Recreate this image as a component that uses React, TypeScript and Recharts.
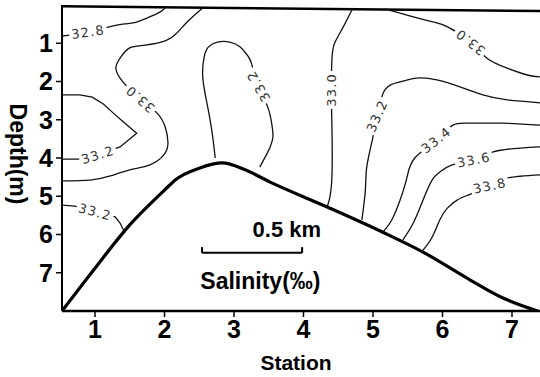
import { ComposedChart, Line, Scatter, XAxis, YAxis, ReferenceLine } from "recharts"

document.body.style.margin = "0"

const stationTicks = [1, 2, 3, 4, 5, 6, 7]
const depthTicks = [1, 2, 3, 4, 5, 6, 7]

// bottom profile, [station, depth]
const seafloor = [
  [0.525, 8.0], [1.0, 6.88], [1.5, 5.75], [2.0, 4.84], [2.15, 4.58], [2.51, 4.26],
  [2.83, 4.13], [3.16, 4.31], [3.52, 4.63], [4.34, 5.28], [5.14, 5.94], [5.72, 6.46],
  [6.4, 7.19], [6.87, 7.66], [7.37, 8.0],
]

// salinity isolines
const iso328 = [[0.525, 0.81], [0.9, 0.71], [1.33, 0.52], [1.55, 0.47], [1.75, 0.34], [1.94, 0.18], [2.02, 0.05]]
const iso330West = [
  [2.55, 0.08], [2.34, 0.42], [2.18, 0.73], [2.01, 0.94], [1.72, 1.05], [1.5, 1.12], [1.37, 1.36],
  [1.3, 1.65], [1.4, 2.01], [1.65, 2.46], [1.89, 2.82], [2.01, 3.19], [2.05, 3.61], [1.99, 3.92],
  [1.79, 4.18], [1.5, 4.31], [1.22, 4.47], [0.93, 4.58], [0.525, 4.6],
]
const iso332Wedge = [
  [0.525, 2.35], [0.78, 2.35], [0.96, 2.41], [1.12, 2.59], [1.26, 2.82], [1.43, 3.09], [1.6, 3.35],
  [1.36, 3.71], [1.04, 3.92], [0.76, 4.03], [0.525, 4.03],
]
const iso332Slope = [[0.525, 5.23], [0.71, 5.26], [1.0, 5.41], [1.29, 5.54], [1.36, 5.7], [1.43, 5.96]]
const iso332Dome = [
  [2.73, 4.0], [2.68, 3.27], [2.61, 2.56], [2.55, 1.88], [2.57, 1.36], [2.63, 1.1], [2.76, 0.97],
  [2.94, 0.97], [3.09, 1.1], [3.19, 1.31], [3.25, 1.52], [3.35, 2.12], [3.49, 2.69], [3.55, 3.19],
  [3.56, 3.45], [3.52, 3.71], [3.45, 3.97], [3.37, 4.24],
]
const iso330Mid = [[4.71, 0.08], [4.57, 0.58], [4.45, 0.99], [4.41, 1.39], [4.4, 2.22], [4.41, 3.27], [4.41, 4.44], [4.38, 5.02], [4.34, 5.28]]
const iso330East = [[5.17, 0.1], [5.58, 0.31], [5.86, 0.44], [6.08, 0.58], [6.4, 0.97], [6.64, 1.39], [6.93, 1.65], [7.22, 1.83], [7.403, 1.88]]
const iso332East = [
  [7.403, 2.56], [6.93, 2.48], [6.58, 2.35], [6.25, 2.14], [5.92, 1.96], [5.63, 1.91], [5.39, 2.01],
  [5.17, 2.22], [5.06, 2.9], [4.99, 3.53], [4.91, 4.24], [4.89, 4.84], [4.84, 5.62],
]
const iso334 = [[7.403, 3.14], [6.87, 3.09], [6.4, 3.09], [6.15, 3.14], [5.91, 3.53], [5.6, 4.0], [5.49, 4.5], [5.39, 5.1], [5.27, 5.62], [5.14, 5.94]]
const iso336 = [[7.403, 3.71], [7.12, 3.74], [6.73, 3.84], [6.45, 4.05], [6.14, 4.18], [5.96, 4.37], [5.85, 4.58], [5.72, 5.1], [5.58, 5.7], [5.43, 6.14]]
const iso338 = [[7.403, 4.44], [6.94, 4.52], [6.68, 4.73], [6.37, 4.97], [6.21, 5.1], [6.07, 5.31], [5.96, 5.62], [5.85, 6.07], [5.72, 6.41]]

const isolines = [
  { id: "iso328", pts: iso328 },
  { id: "iso330West", pts: iso330West },
  { id: "iso332Wedge", pts: iso332Wedge },
  { id: "iso332Slope", pts: iso332Slope },
  { id: "iso332Dome", pts: iso332Dome },
  { id: "iso330Mid", pts: iso330Mid },
  { id: "iso330East", pts: iso330East },
  { id: "iso332East", pts: iso332East },
  { id: "iso334", pts: iso334 },
  { id: "iso336", pts: iso336 },
  { id: "iso338", pts: iso338 },
]

// contour labels: station, depth, text, text direction (deg)
const isoLabels = [
  { x: 0.9, y: 0.71, text: "32.8", angle: -8 },
  { x: 1.65, y: 2.46, text: "33.0", angle: -139 },
  { x: 1.04, y: 3.92, text: "33.2", angle: -17 },
  { x: 1.0, y: 5.41, text: "33.2", angle: 15 },
  { x: 3.35, y: 2.12, text: "33.2", angle: -120 },
  { x: 4.4, y: 2.22, text: "33.0", angle: -90 },
  { x: 6.4, y: 0.97, text: "33.0", angle: -142 },
  { x: 5.06, y: 2.9, text: "33.2", angle: -66 },
  { x: 5.91, y: 3.53, text: "33.4", angle: -38 },
  { x: 6.45, y: 4.05, text: "33.6", angle: -11 },
  { x: 6.68, y: 4.73, text: "33.8", angle: -12 },
]

const notes = [
  { x: 3.76, y: 5.88, text: "0.5 km" },
  { x: 3.38, y: 7.22, text: "Salinity(‰)" },
]

// 0.5 km bar
const scaleBar = { x0: 2.54, x1: 3.98, y: 6.48, tickTop: 6.33 }
const frameTop = [[0.525, 0.03], [7.403, 0.16]]

const sharp = new Set(["iso332Wedge", "iso332Slope"])
const font = "'Liberation Sans', Arial, Helvetica, sans-serif"

const toPts = (arr: number[][]) => arr.map(([x, y]) => ({ x, y }))

const IsoLabel = (props: any) => {
  const { cx, cy, payload } = props
  const w = payload.text.length * 9.5
  return (
    <g transform={`translate(${cx},${cy}) rotate(${payload.angle})`}>
      <rect x={-w / 2} y={-7} width={w} height={14} fill="#fff" />
      <text
        x={0}
        y={0}
        textAnchor="middle"
        dominantBaseline="central"
        fontSize={13}
        fontFamily="'DejaVu Sans', sans-serif"
        letterSpacing={1.2}
        fill="#333"
      >
        {payload.text}
      </text>
    </g>
  )
}

const Note = (props: any) => {
  const { cx, cy, payload } = props
  return (
    <text
      x={cx}
      y={cy}
      textAnchor="middle"
      dominantBaseline="central"
      fontSize={payload.text.length > 6 ? 23 : 22}
      fontWeight="bold"
      fontFamily={font}
      fill="#000"
    >
      {payload.text}
    </text>
  )
}

const tickStyle = { fontSize: 25, fontWeight: "bold", fill: "#000", fontFamily: font }

export default function App() {
  return (
    <ComposedChart width={540} height={377} margin={{ top: 5, right: 0, bottom: 0, left: 0 }}>
      <XAxis
        type="number"
        dataKey="x"
        domain={[0.525, 7.403]}
        ticks={stationTicks}
        allowDataOverflow
        height={66}
        tickSize={6}
        tickMargin={3}
        tick={tickStyle}
        axisLine={{ stroke: "#000", strokeWidth: 2.5 }}
        tickLine={{ stroke: "#000", strokeWidth: 1.5 }}
        label={{
          content: (p: any) => (
            <text
              x={p.viewBox.x + p.viewBox.width / 2 - 5}
              y={p.viewBox.y + 59}
              textAnchor="middle"
              fontSize={21}
              fontWeight="bold"
              fontFamily={font}
              fill="#000"
            >
              Station
            </text>
          ),
        }}
      />
      <YAxis
        type="number"
        dataKey="y"
        domain={[0, 8]}
        reversed
        ticks={depthTicks}
        allowDataOverflow
        width={62}
        tickSize={6}
        tickMargin={3}
        tick={tickStyle}
        axisLine={{ stroke: "#000", strokeWidth: 2 }}
        tickLine={{ stroke: "#000", strokeWidth: 1.5 }}
        label={{
          content: (p: any) => (
            <text
              transform={`translate(${p.viewBox.x + 18},${p.viewBox.y + p.viewBox.height / 2 - 4}) rotate(90)`}
              textAnchor="middle"
              dominantBaseline="central"
              fontSize={23}
              fontWeight="bold"
              fontFamily={font}
              fill="#000"
            >
              Depth(m)
            </text>
          ),
        }}
      />
      <ReferenceLine
        segment={toPts(frameTop)}
        stroke="#000"
        strokeWidth={2.5}
        ifOverflow="visible"
      />
      {isolines.map((l) => (
        <Line
          key={l.id}
          data={toPts(l.pts)}
          dataKey="y"
          type={sharp.has(l.id) ? "linear" : "natural"}
          stroke="#111"
          strokeWidth={1.3}
          dot={false}
          activeDot={false}
          isAnimationActive={false}
        />
      ))}
      <Line
        data={toPts(seafloor)}
        dataKey="y"
        type="monotone"
        stroke="#000"
        strokeWidth={3.2}
        dot={false}
        activeDot={false}
        isAnimationActive={false}
      />
      <ReferenceLine
        segment={[{ x: scaleBar.x0, y: scaleBar.y }, { x: scaleBar.x1, y: scaleBar.y }]}
        stroke="#000"
        strokeWidth={2}
      />
      <ReferenceLine
        segment={[{ x: scaleBar.x0, y: scaleBar.tickTop }, { x: scaleBar.x0, y: scaleBar.y }]}
        stroke="#000"
        strokeWidth={2}
      />
      <ReferenceLine
        segment={[{ x: scaleBar.x1, y: scaleBar.tickTop }, { x: scaleBar.x1, y: scaleBar.y }]}
        stroke="#000"
        strokeWidth={2}
      />
      <Scatter data={isoLabels} dataKey="y" shape={IsoLabel} isAnimationActive={false} />
      <Scatter data={notes} dataKey="y" shape={Note} isAnimationActive={false} />
    </ComposedChart>
  )
}
